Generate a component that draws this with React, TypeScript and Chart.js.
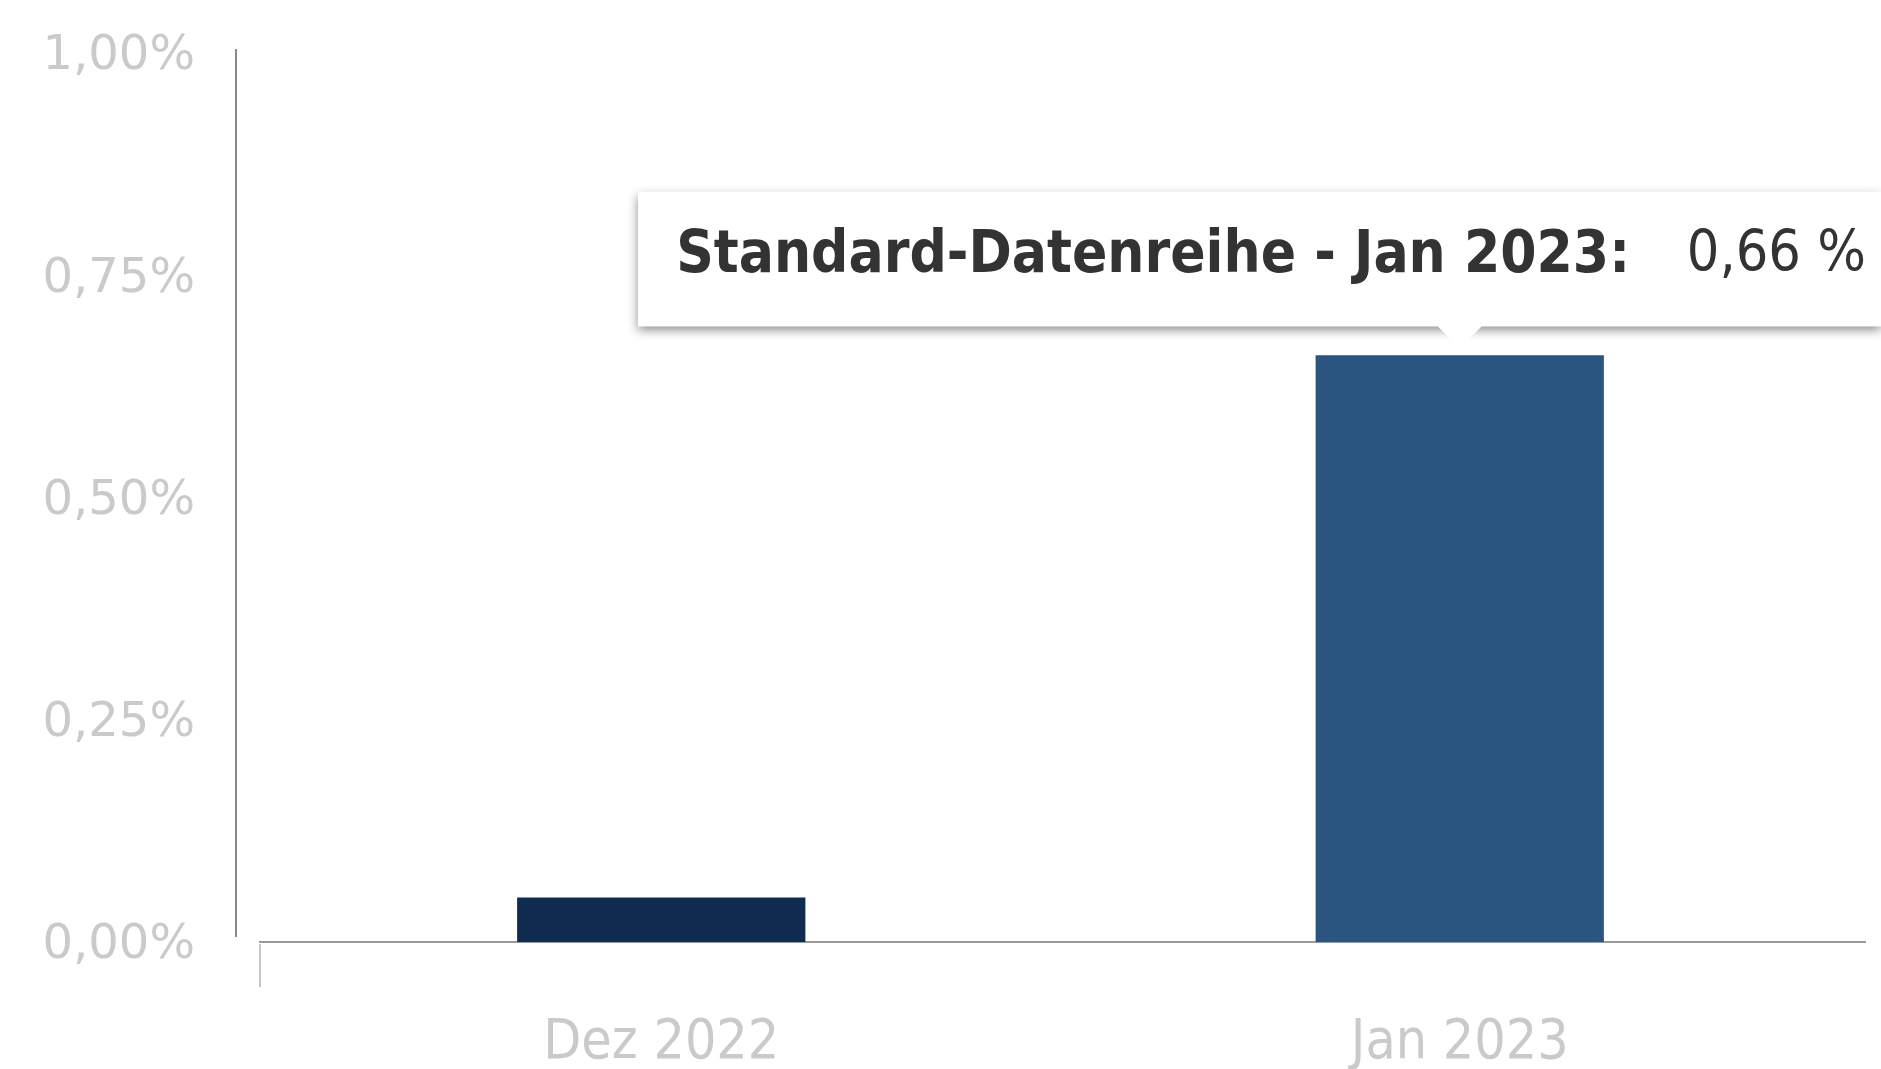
import React, { useEffect, useRef } from "react";
import { Chart, registerables } from "chart.js";

Chart.register(...registerables);

const categories: string[] = ["Dez 2022", "Jan 2023"];
const seriesName = "Standard-Datenreihe";
const values: number[] = [0.05, 0.66];
const yTickValues: number[] = [0, 0.25, 0.5, 0.75, 1];
const barColors: string[] = ["#0f2b50", "#2a5581"];
const activeIndex = 1;

const fmt = (v: number, sep: string) => v.toFixed(2).replace(".", ",") + sep + "%";

const axisLines = {
  id: "axisLines",
  beforeDatasetsDraw(chart: any) {
    const { ctx, chartArea, scales } = chart;
    const y = scales.y;
    const zero = y.getPixelForValue(0);
    const top = y.getPixelForValue(yTickValues[yTickValues.length - 1]);
    ctx.save();
    ctx.strokeStyle = "#8a8a8a";
    ctx.lineWidth = 2;
    ctx.beginPath();
    ctx.moveTo(chartArea.left - 26, top - 4);
    ctx.lineTo(chartArea.left - 26, zero - 5);
    ctx.stroke();
    ctx.strokeStyle = "#9a9a9a";
    ctx.beginPath();
    ctx.moveTo(chartArea.left - 3, zero);
    ctx.lineTo(chartArea.right + 7, zero);
    ctx.stroke();
    ctx.strokeStyle = "#c8c8c8";
    ctx.beginPath();
    ctx.moveTo(chartArea.left - 2, zero + 2);
    ctx.lineTo(chartArea.left - 2, zero + 45);
    ctx.stroke();
    ctx.restore();
  },
  beforeTooltipDraw(chart: any) {
    const tt = chart.tooltip;
    if (!tt || !tt.opacity) return;
    const { ctx } = chart;
    ctx.save();
    ctx.shadowColor = "rgba(0,0,0,0.45)";
    ctx.shadowBlur = 10;
    ctx.shadowOffsetY = 4;
    ctx.fillStyle = "#ffffff";
    ctx.fillRect(tt.x, tt.y, tt.width, tt.height);
    ctx.restore();
  },
};

export default function App() {
  const ref = useRef<HTMLCanvasElement | null>(null);
  useEffect(() => {
    if (!ref.current) return;
    const chart = new Chart(ref.current, {
      type: "bar",
      data: {
        labels: categories,
        datasets: [
          {
            label: seriesName,
            data: values,
            backgroundColor: barColors,
            categoryPercentage: 1,
            barPercentage: 0.361,
          },
        ],
      },
      plugins: [axisLines],
      options: {
        animation: false,
        responsive: true,
        maintainAspectRatio: false,
        events: [],
        layout: { padding: { top: 53, right: 22, bottom: 0, left: 0 } },
        scales: {
          x: {
            grid: { display: false, drawTicks: false },
            border: { display: false },
            ticks: {
              color: "#cacaca",
              padding: 69,
              font: { family: '"DejaVu Sans Condensed", "DejaVu Sans"', size: 55 },
            },
            afterFit: (s: any) => {
              s.height = 127;
              s.paddingLeft = 0;
              s.paddingRight = 0;
            },
          },
          y: {
            min: 0,
            max: 1,
            afterBuildTicks: (s: any) => {
              s.ticks = yTickValues.map((v) => ({ value: v }));
            },
            grid: { display: false, drawTicks: false },
            border: { display: false },
            ticks: {
              color: "#cacaca",
              padding: 67,
              labelOffset: 4,
              font: { family: '"DejaVu Sans"', size: 48 },
              callback: (v: any) => fmt(Number(v), ""),
            },
            afterFit: (s: any) => {
              s.width = 262;
              s.paddingTop = 0;
              s.paddingBottom = 0;
            },
          },
        },
        plugins: {
          legend: { display: false },
          tooltip: {
            enabled: true,
            xAlign: "center",
            yAlign: "bottom",
            backgroundColor: "#ffffff",
            titleColor: "#333333",
            bodyColor: "#333333",
            titleFont: { family: '"DejaVu Sans Condensed", "DejaVu Sans"', size: 58, weight: "bold" },
            bodyFont: { family: '"DejaVu Sans Condensed", "DejaVu Sans"', size: 57, weight: "normal" },
            titleMarginBottom: -69.6,
            titleSpacing: 0,
            bodyAlign: "right",
            titleAlign: "left",
            displayColors: false,
            padding: { top: 30, right: 15, bottom: 36, left: 38 },
            caretSize: 22,
            caretPadding: 7,
            cornerRadius: 0,
            borderWidth: 0,
            callbacks: {
              title: (items: any[]) =>
                `${seriesName} - ${items[0].label}:` + " ".repeat(13),
              label: (item: any) => fmt(Number(item.raw), " "),
            },
          },
        },
      } as any,
    });
    chart.tooltip?.setActiveElements([{ datasetIndex: 0, index: activeIndex }], { x: 0, y: 0 });
    chart.update();
    return () => chart.destroy();
  }, []);
  return (
    <div style={{ position: "fixed", left: 0, top: 0, width: "100vw", height: "100vh", background: "#ffffff" }}>
      <canvas ref={ref} />
    </div>
  );
}
